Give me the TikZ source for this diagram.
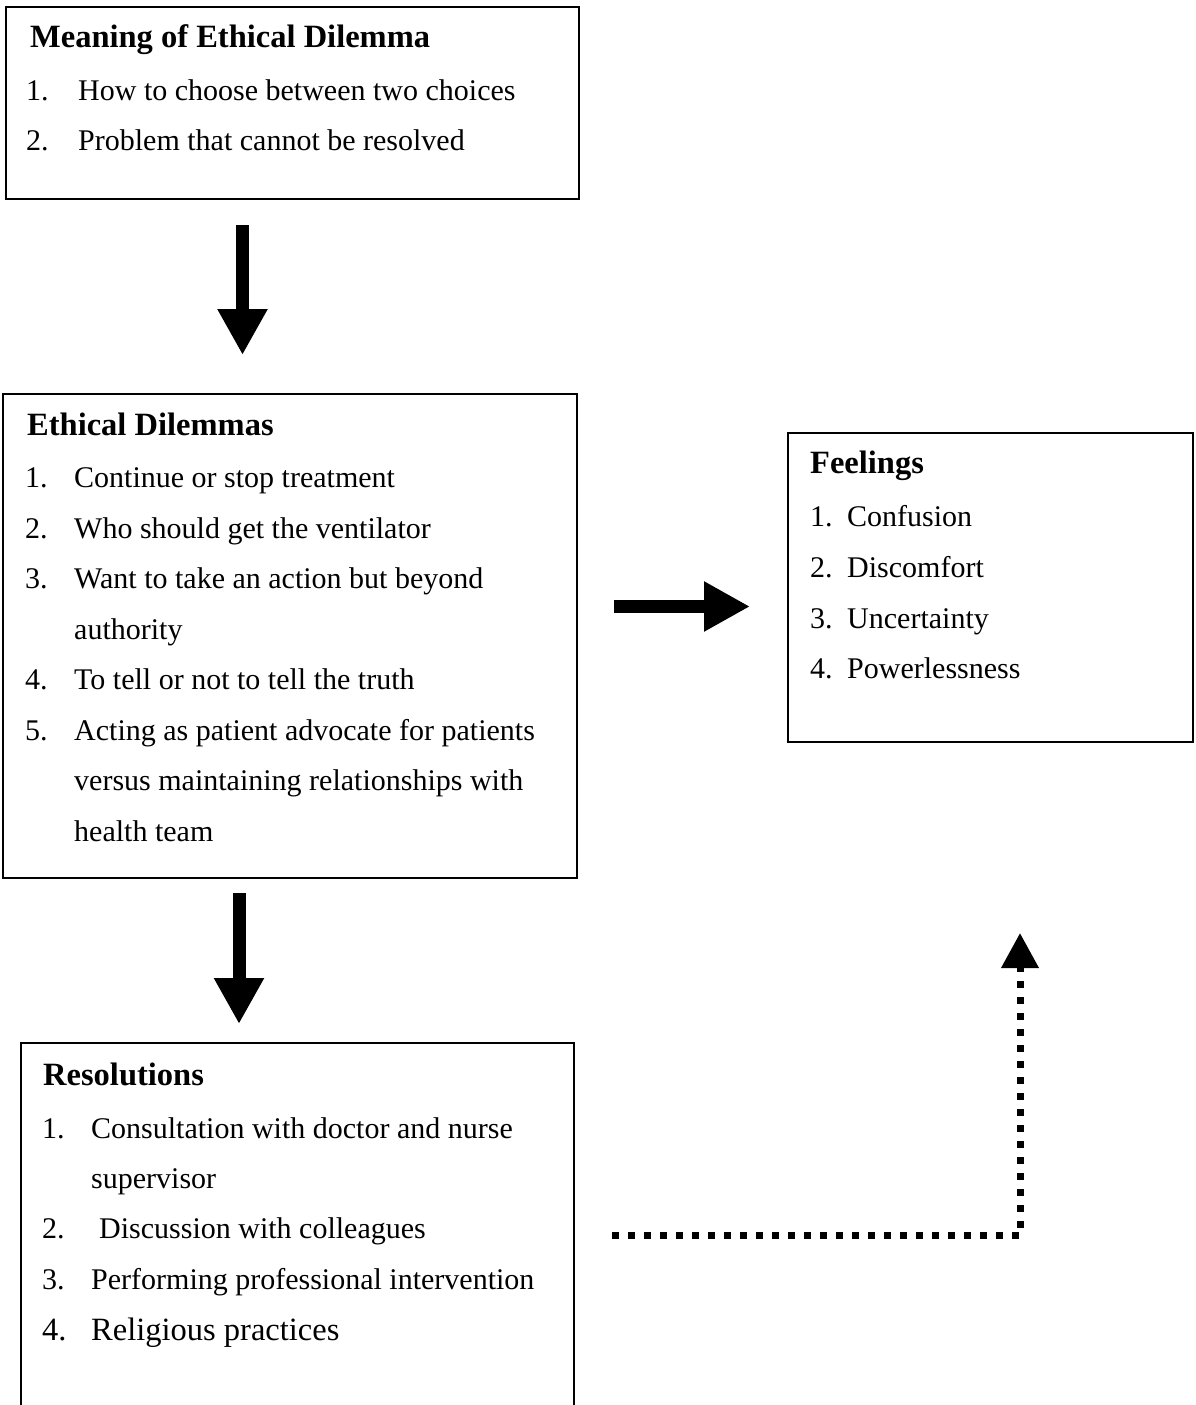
\documentclass[tikz,border=0pt]{standalone}
\usepackage{fontspec}
\setmainfont{Liberation Serif}
\usetikzlibrary{arrows.meta,calc}
\begin{document}
\begin{tikzpicture}[x=1pt,y=-1pt]
\tikzset{
  box/.style={draw, line width=2.2pt, inner sep=0pt, outer sep=0pt, anchor=north west},
  ttl/.style={anchor=base west, inner sep=0pt, font=\fontsize{32.5}{39}\selectfont\bfseries},
  itm/.style={anchor=base west, inner sep=0pt, font=\fontsize{30}{36}\selectfont},
  itmbig/.style={anchor=base west, inner sep=0pt, font=\fontsize{32.5}{39}\selectfont},
  bigarrow/.style={line width=13pt, -{Triangle[width=47pt,length=46pt]}},
  dotarrow/.style={line width=7pt, dash pattern=on 7pt off 9pt, line join=miter, -{Triangle[width=36pt,length=35pt]}}
}
\useasboundingbox (0,0) rectangle (1195,1405);
\clip (0,0) rectangle (1195,1405);

% boxes
\node[box, minimum width=573pt, minimum height=192pt] (b1) at (6,7) {};
\node[box, minimum width=574pt, minimum height=484pt] (b2) at (3,394) {};
\node[box, minimum width=405pt, minimum height=309pt] (b3) at (788,433) {};
\node[box, minimum width=553pt, minimum height=420pt] (b4) at (21,1043) {};

% box 1 text
\node[ttl] (t1) at (30,48) {Meaning of Ethical Dilemma};
\node[itm] (n11) at (26,100) {1.};
\node[itm] (i11) at (78,100) {How to choose between two choices};
\node[itm] (n12) at (26,150) {2.};
\node[itm] (i12) at (78,150) {Problem that cannot be resolved};

% box 2 text
\node[ttl] (t2) at (27,435) {Ethical Dilemmas};
\node[itm] (n21) at (25,487) {1.};
\node[itm] (i21) at (74,487) {Continue or stop treatment};
\node[itm] (n22) at (25,538) {2.};
\node[itm] (i22) at (74,538) {Who should get the ventilator};
\node[itm] (n23) at (25,588) {3.};
\node[itm] (i23) at (74,588) {Want to take an action but beyond};
\node[itm] (i23b) at (74,639) {authority};
\node[itm] (n24) at (25,689) {4.};
\node[itm] (i24) at (74,689) {To tell or not to tell the truth};
\node[itm] (n25) at (25,740) {5.};
\node[itm] (i25) at (74,740) {Acting as patient advocate for patients};
\node[itm] (i25b) at (74,790) {versus maintaining relationships with};
\node[itm] (i25c) at (74,841) {health team};

% box 3 text
\node[ttl] (t3) at (810,473) {Feelings};
\node[itm] (n31) at (810,526) {1.};
\node[itm] (i31) at (847,526) {Confusion};
\node[itm] (n32) at (810,577) {2.};
\node[itm] (i32) at (847,577) {Discomfort};
\node[itm] (n33) at (810,628) {3.};
\node[itm] (i33) at (847,628) {Uncertainty};
\node[itm] (n34) at (810,678) {4.};
\node[itm] (i34) at (847,678) {Powerlessness};

% box 4 text
\node[ttl] (t4) at (43,1085) {Resolutions};
\node[itm] (n41) at (42,1138) {1.};
\node[itm] (i41) at (91,1138) {Consultation with doctor and nurse};
\node[itm] (i41b) at (91,1188) {supervisor};
\node[itm] (n42) at (42,1238) {2.};
\node[itm] (i42) at (99,1238) {Discussion with colleagues};
\node[itm] (n43) at (42,1289) {3.};
\node[itm] (i43) at (91,1289) {Performing professional intervention};
\node[itmbig] (n44) at (42,1340) {4.};
\node[itmbig] (i44) at (91,1340) {Religious practices};

% arrows
\coordinate (ax1) at (242.5,0);
\coordinate (ax2) at (239,0);
\coordinate (ay) at (0,606.5);
\draw[bigarrow] ($(b1.south -| ax1)+(0,26)$) -- ($(b2.north -| ax1)+(0,-39)$);
\draw[bigarrow] ($(b2.east |- ay)+(37,0)$) -- ($(b3.west |- ay)+(-38,0)$);
\draw[bigarrow] ($(b2.south -| ax2)+(0,15)$) -- ($(b4.north -| ax2)+(0,-19)$);

% dotted arrow
\coordinate (d0) at (612,1235.5);
\coordinate (d1) at (1020,1235.5);
\coordinate (d2) at (1020,933);
\draw[dotarrow] (d0) -- (d1) -- (d2);
\end{tikzpicture}
\end{document}
